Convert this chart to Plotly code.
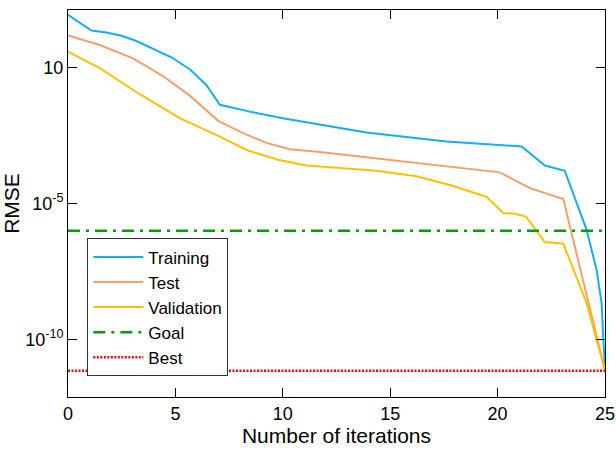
import plotly.graph_objects as go

# Training RMSE
train_x = [0, 1.09, 1.79, 2.49, 3.18, 3.96, 4.81, 5.67, 6.44, 7.07, 8.46, 10.0, 11.7,
           13.9, 17.62, 21.12, 22.2, 23.13, 24.14, 24.38, 24.61, 24.84, 25]
train_y = [87, 23, 19.5, 14.8, 9.5, 4.8, 2.4, 0.87, 0.23, 0.043, 0.024, 0.0138, 0.0083,
           0.0041, 0.0019, 0.00126, 2.5e-4, 1.6e-4, 1.1e-6, 1.9e-7, 3.6e-8, 2.2e-9, 7e-12]

# Test RMSE
test_x = [0, 1.48, 3.03, 4.42, 5.67, 6.99, 8.15, 9.24, 10.33, 11.72, 20.1, 21.5, 22.28, 23.06, 25]
test_y = [15.1, 6.8, 2.2, 0.49, 0.093, 0.011, 0.0039, 0.0017, 0.001, 7.8e-4, 1.4e-4,
          3.7e-5, 2.3e-5, 1.45e-5, 7e-12]

# Validation RMSE
val_x = [0, 1.48, 3.34, 5.2, 7.07, 8.38, 9.78, 11.1, 14.36, 16.22, 17.86, 19.49, 20.26,
         20.8, 21.32, 22.2, 23.06, 24.14, 25]
val_y = [3.9, 0.95, 0.105, 0.0138, 0.0029, 8.9e-4, 4.1e-4, 2.5e-4, 1.6e-4, 1.0e-4, 4.6e-5,
         1.74e-5, 4.5e-6, 4.2e-6, 3.3e-6, 3.8e-7, 3.3e-7, 2.2e-9, 7e-12]

goal_value = 1e-6
best_value = 7e-12
x_span = [0, 25]

y_tickvals = [1, 1e-5, 1e-10]
y_ticktext = ["10", "10<sup>-5</sup>", "10<sup>-10</sup>"]
x_tickvals = [0, 5, 10, 15, 20, 25]

fig = go.Figure()
fig.add_trace(go.Scatter(x=train_x, y=train_y, mode="lines", name="Training",
                         line=dict(color="#12B0EE", width=2)))
fig.add_trace(go.Scatter(x=test_x, y=test_y, mode="lines", name="Test",
                         line=dict(color="#F4A06A", width=2)))
fig.add_trace(go.Scatter(x=val_x, y=val_y, mode="lines", name="Validation",
                         line=dict(color="#FFC000", width=2)))
fig.add_trace(go.Scatter(x=x_span, y=[goal_value, goal_value], mode="lines", name="Goal",
                         line=dict(color="#00A000", width=2.5, dash="12px,6px,3px,6px")))
fig.add_trace(go.Scatter(x=x_span, y=[best_value, best_value], mode="lines", name="Best",
                         line=dict(color="#FF0000", width=2.5, dash="2px,1.5px")))

fig.update_layout(
    width=616, height=450,
    margin=dict(l=68, r=11, t=10, b=53),
    plot_bgcolor="white", paper_bgcolor="white",
    font=dict(family="Liberation Sans, Arial, sans-serif", color="black", size=18),
    showlegend=True,
    legend=dict(x=0.036, y=0.41, xanchor="left", yanchor="top",
                bordercolor="#333333", borderwidth=1, bgcolor="white",
                font=dict(size=17), itemwidth=50, tracegroupgap=0),
)
fig.update_xaxes(
    range=[0, 25], tickvals=x_tickvals, ticks="inside", ticklen=9, tickwidth=1,
    tickcolor="black", showline=True, linecolor="black", linewidth=1, mirror="ticks",
    showgrid=False, zeroline=False, automargin=False,
    title=dict(text="Number of iterations", font=dict(size=21), standoff=4),
    tickfont=dict(size=18),
)
fig.update_yaxes(
    type="log", range=[-12.12, 2.12], tickvals=y_tickvals, ticktext=y_ticktext,
    ticks="inside", ticklen=9, tickwidth=1, tickcolor="black",
    showline=True, linecolor="black", linewidth=1, mirror="ticks",
    showgrid=False, zeroline=False, automargin=False,
    title=dict(text="RMSE", font=dict(size=21), standoff=0),
    tickfont=dict(size=18),
)

fig.write_html("out.html", config={"displayModeBar": False},
               post_script="document.body.style.margin='0';document.body.style.overflow='hidden';")
